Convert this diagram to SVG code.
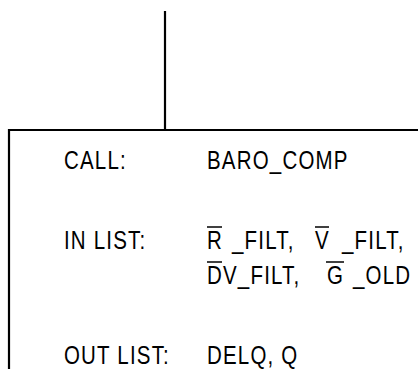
<svg xmlns="http://www.w3.org/2000/svg" width="418" height="369" viewBox="0 0 418 369">
  <style>
    .ln { stroke: #000; stroke-width: 2.2; fill: none; }
    .ov { stroke: #000; stroke-width: 1.5; }
    .t { font-family: "Liberation Sans", Arial, sans-serif; font-size: 25px; letter-spacing: 1.45px; fill: #000; white-space: pre; }
  </style>
  <rect width="418" height="369" fill="#fff"/>
  <g id="connectors">
    <line class="ln" x1="165" y1="11" x2="165" y2="130"/>
  </g>
  <g id="node-baro-comp">
    <polyline class="ln" points="418,130 9,130 9,369"/>
    <g transform="scale(0.82,1)">
      <text class="t" x="78.05" y="169">CALL:</text>
      <text class="t" x="252.44" y="169">BARO_COMP</text>
      <text class="t" x="78.05" y="249">IN LIST:</text>
      <text class="t" y="249"><tspan x="252.44">R</tspan><tspan x="282.93">_FILT,</tspan><tspan x="384.15">V</tspan><tspan x="417.07">_FILT,</tspan></text>
      <text class="t" y="284"><tspan x="252.44">DV_FILT,</tspan><tspan x="398.78">G</tspan><tspan x="430.49">_OLD</tspan></text>
      <text class="t" x="78.05" y="364">OUT LIST:</text>
      <text class="t" x="252.44" y="364">DELQ, Q</text>
    </g>
    <line class="ov" x1="207" y1="227" x2="222" y2="227"/>
    <line class="ov" x1="315" y1="227" x2="329" y2="227"/>
    <line class="ov" x1="207" y1="262" x2="222" y2="262"/>
    <line class="ov" x1="326" y1="262" x2="344" y2="262"/>
  </g>
</svg>
